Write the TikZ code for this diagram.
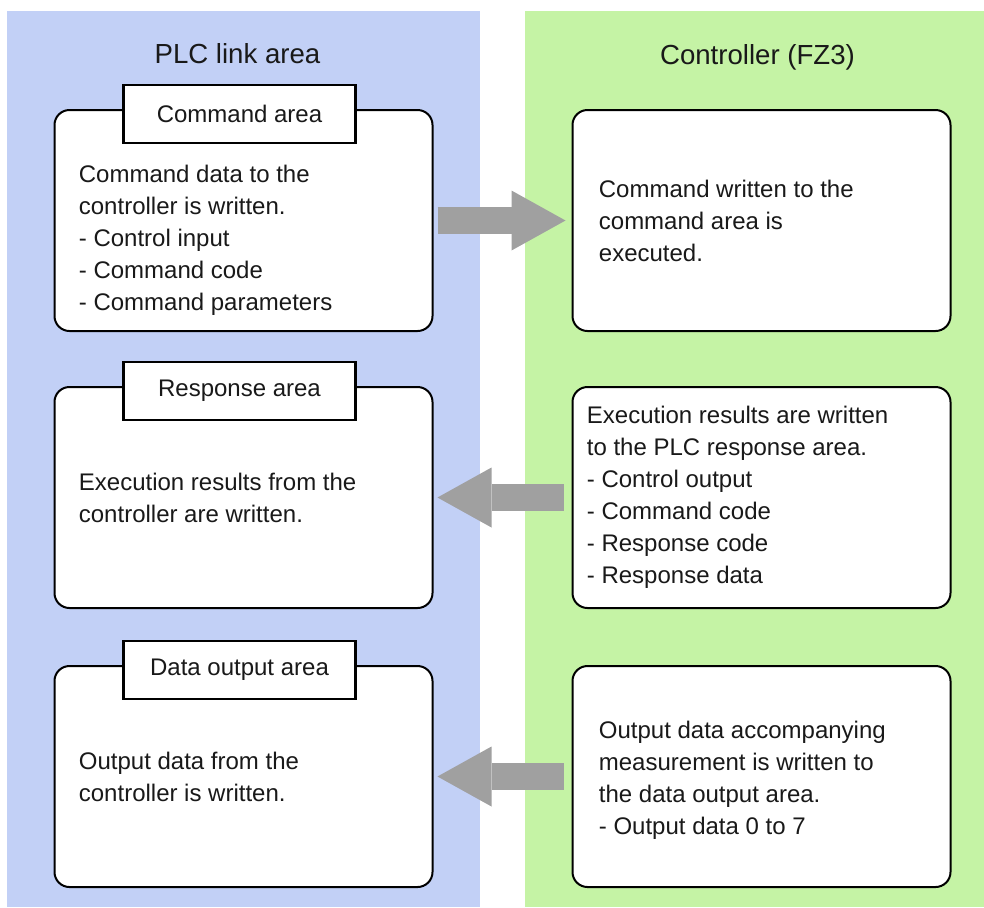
\documentclass[tikz,border=0pt]{standalone}
\usepackage{fontspec}
\setmainfont{Liberation Sans}
\usetikzlibrary{arrows.meta,positioning}
\definecolor{plcblue}{RGB}{194,208,246}
\definecolor{ctrlgreen}{RGB}{197,243,165}
\definecolor{flowgray}{RGB}{160,160,160}
\definecolor{inkgray}{RGB}{25,25,25}

\begin{document}
\begin{tikzpicture}[x=0.5pt, y=-0.5pt, node distance=27pt and 69pt, every node/.style={font=\fontsize{12}{16}\selectfont,text=inkgray},
  areabox/.style={draw=black,line width=1pt,rounded corners=7.5pt,fill=white,minimum width=189pt,minimum height=110.5pt,inner sep=0pt},
  tabbox/.style={draw=black,line width=1.1pt,fill=white,minimum width=116pt,minimum height=29pt,inner sep=0pt},
  bodytext/.style={align=left,inner sep=0pt},
  areatitle/.style={font=\fontsize{13.8}{16}\selectfont,anchor=base},
  flow/.style={draw=flowgray,line width=13.5pt,-{Triangle[length=27pt,width=30pt,line width=0pt]}}]
\useasboundingbox (0,0) rectangle (984,907);
% background areas
\fill[plcblue] (7,11) rectangle (480,907);
\fill[ctrlgreen] (525,11) rectangle (984,907);
\node[areatitle] (plctitle) at (237.5,63) {PLC link area};
\node[areatitle] (ctrltitle) at (757.5,64) {Controller (FZ3)};
% PLC link area
\node[areabox] (cmd) at (243.5,220.5) {};
\node[areabox,below=of cmd] (resp) {};
\node[areabox,below=28pt of resp] (dout) {};
\node[tabbox,xshift=-2pt,yshift=-2.5pt] (cmdtab) at (cmd.north) {Command area};
\node[tabbox,xshift=-2pt,yshift=-2.5pt] (resptab) at (resp.north) {Response area};
\node[tabbox,xshift=-2pt,yshift=-2.5pt] (douttab) at (dout.north) {Data output area};
\node[bodytext,right=12.5pt of cmd.west,yshift=-9.75pt] (cmdtext) {Command data to the\\controller is written.\\- Control input\\- Command code\\- Command parameters};
\node[bodytext,right=12.5pt of resp.west] (resptext) {Execution results from the\\controller are written.};
\node[bodytext,right=12.5pt of dout.west] (douttext) {Output data from the\\controller is written.};
% controller
\node[areabox,right=of cmd] (exec) {};
\node[areabox,right=of resp] (result) {};
\node[areabox,right=of dout] (outdata) {};
\node[bodytext,right=13.5pt of exec.west] (exectext) {Command written to the\\command area is\\executed.};
\node[bodytext,right=7.5pt of result.west] (resulttext) {Execution results are written\\to the PLC response area.\\- Control output\\- Command code\\- Response code\\- Response data};
\node[bodytext,right=13.5pt of outdata.west,yshift=-2pt] (outdatatext) {Output data accompanying\\measurement is written to\\the data output area.\\- Output data 0 to 7};
\draw[flow,shorten <=2pt,shorten >=3pt] (cmd.east) -- (exec.west);
\draw[flow,shorten <=4pt,shorten >=2pt] (result.west) -- (resp.east);
\draw[flow,shorten <=4pt,shorten >=2pt] (outdata.west) -- (dout.east);
\end{tikzpicture}
\end{document}
